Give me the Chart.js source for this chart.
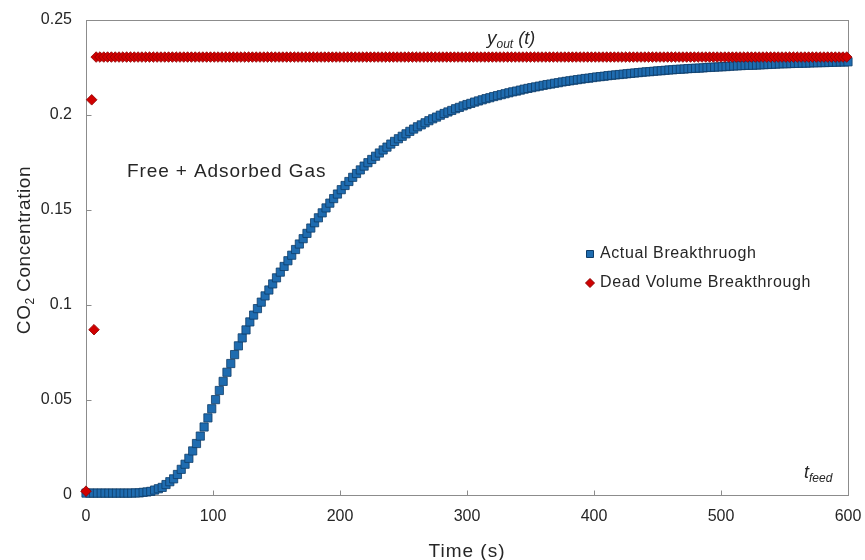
<!DOCTYPE html>
<html>
<head>
<meta charset="utf-8">
<script src="https://cdn.jsdelivr.net/npm/chart.js@4.4.1/dist/chart.umd.min.js"></script>
<style>
  html, body { margin: 0; padding: 0; background: #ffffff; }
  #wrap { width: 865px; height: 560px; }
</style>
</head>
<body>
<div id="wrap"><canvas id="c" width="865" height="560"></canvas></div>
<script>
// Outlet CO2 concentration measured during the feed step (s)
const actualTime = [
  0,3,6,9,12,15,18,21,24,27,30,33,36,39,42,45,48,51,54,57,
  60,63,66,69,72,75,78,81,84,87,90,93,96,99,102,105,108,111,114,117,
  120,123,126,129,132,135,138,141,144,147,150,153,156,159,162,165,168,171,174,177,
  180,183,186,189,192,195,198,201,204,207,210,213,216,219,222,225,228,231,234,237,
  240,243,246,249,252,255,258,261,264,267,270,273,276,279,282,285,288,291,294,297,
  300,303,306,309,312,315,318,321,324,327,330,333,336,339,342,345,348,351,354,357,
  360,363,366,369,372,375,378,381,384,387,390,393,396,399,402,405,408,411,414,417,
  420,423,426,429,432,435,438,441,444,447,450,453,456,459,462,465,468,471,474,477,
  480,483,486,489,492,495,498,501,504,507,510,513,516,519,522,525,528,531,534,537,
  540,543,546,549,552,555,558,561,564,567,570,573,576,579,582,585,588,591,594,597,
  600
];
const actualConc = [
  0.0010,0.0010,0.0010,0.0010,0.0010,0.0010,0.0010,0.0010,0.0010,0.0010,0.0010,0.0010,0.0010,0.0011,0.0011,0.0014,0.0016,0.0019,0.0026,0.0033,
  0.0040,0.0055,0.0070,0.0085,0.0108,0.0135,0.0162,0.0193,0.0232,0.0271,0.0310,0.0358,0.0406,0.0454,0.0502,0.0550,0.0598,0.0646,0.0692,0.0739,
  0.0785,0.0827,0.0869,0.0911,0.0947,0.0981,0.1015,0.1048,0.1079,0.1111,0.1143,0.1173,0.1203,0.1233,0.1262,0.1292,0.1321,0.1349,0.1377,0.1405,
  0.1433,0.1459,0.1485,0.1511,0.1536,0.1560,0.1584,0.1607,0.1629,0.1650,0.1672,0.1692,0.1711,0.1731,0.1749,0.1766,0.1783,0.1800,0.1816,0.1831,
  0.1847,0.1861,0.1875,0.1888,0.1901,0.1914,0.1926,0.1938,0.1948,0.1959,0.1970,0.1980,0.1989,0.1999,0.2008,0.2016,0.2024,0.2033,0.2040,0.2048,
  0.2055,0.2061,0.2068,0.2074,0.2080,0.2086,0.2091,0.2097,0.2102,0.2107,0.2112,0.2117,0.2122,0.2126,0.2131,0.2136,0.2140,0.2144,0.2148,0.2152,
  0.2156,0.2160,0.2163,0.2167,0.2170,0.2174,0.2177,0.2180,0.2183,0.2186,0.2189,0.2192,0.2194,0.2197,0.2200,0.2202,0.2204,0.2207,0.2209,0.2211,
  0.2213,0.2215,0.2217,0.2219,0.2221,0.2223,0.2225,0.2227,0.2228,0.2230,0.2232,0.2233,0.2235,0.2237,0.2238,0.2240,0.2241,0.2242,0.2244,0.2245,
  0.2246,0.2247,0.2248,0.2250,0.2251,0.2252,0.2253,0.2254,0.2255,0.2257,0.2258,0.2259,0.2260,0.2261,0.2262,0.2262,0.2263,0.2264,0.2265,0.2266,
  0.2267,0.2268,0.2269,0.2270,0.2270,0.2271,0.2272,0.2272,0.2273,0.2273,0.2274,0.2275,0.2275,0.2276,0.2276,0.2277,0.2278,0.2278,0.2279,0.2279,
  0.2280
];

// Blank-column (dead volume) response
const deadTime = [
  0,4.5,6.3,
  8,11,14,17,20,23,26,29,32,35,38,41,44,47,50,53,56,59,62,65,
  68,71,74,77,80,83,86,89,92,95,98,101,104,107,110,113,116,119,122,125,
  128,131,134,137,140,143,146,149,152,155,158,161,164,167,170,173,176,179,182,185,
  188,191,194,197,200,203,206,209,212,215,218,221,224,227,230,233,236,239,242,245,
  248,251,254,257,260,263,266,269,272,275,278,281,284,287,290,293,296,299,302,305,
  308,311,314,317,320,323,326,329,332,335,338,341,344,347,350,353,356,359,362,365,
  368,371,374,377,380,383,386,389,392,395,398,401,404,407,410,413,416,419,422,425,
  428,431,434,437,440,443,446,449,452,455,458,461,464,467,470,473,476,479,482,485,
  488,491,494,497,500,503,506,509,512,515,518,521,524,527,530,533,536,539,542,545,
  548,551,554,557,560,563,566,569,572,575,578,581,584,587,590,593,596,599
];
const deadConc = [
  0.002,0.208,0.087,
  0.2305,0.2305,0.2305,0.2305,0.2305,0.2305,0.2305,0.2305,0.2305,0.2305,0.2305,0.2305,0.2305,0.2305,0.2305,0.2305,0.2305,0.2305,0.2305,0.2305,
  0.2305,0.2305,0.2305,0.2305,0.2305,0.2305,0.2305,0.2305,0.2305,0.2305,0.2305,0.2305,0.2305,0.2305,0.2305,0.2305,0.2305,0.2305,0.2305,0.2305,
  0.2305,0.2305,0.2305,0.2305,0.2305,0.2305,0.2305,0.2305,0.2305,0.2305,0.2305,0.2305,0.2305,0.2305,0.2305,0.2305,0.2305,0.2305,0.2305,0.2305,
  0.2305,0.2305,0.2305,0.2305,0.2305,0.2305,0.2305,0.2305,0.2305,0.2305,0.2305,0.2305,0.2305,0.2305,0.2305,0.2305,0.2305,0.2305,0.2305,0.2305,
  0.2305,0.2305,0.2305,0.2305,0.2305,0.2305,0.2305,0.2305,0.2305,0.2305,0.2305,0.2305,0.2305,0.2305,0.2305,0.2305,0.2305,0.2305,0.2305,0.2305,
  0.2305,0.2305,0.2305,0.2305,0.2305,0.2305,0.2305,0.2305,0.2305,0.2305,0.2305,0.2305,0.2305,0.2305,0.2305,0.2305,0.2305,0.2305,0.2305,0.2305,
  0.2305,0.2305,0.2305,0.2305,0.2305,0.2305,0.2305,0.2305,0.2305,0.2305,0.2305,0.2305,0.2305,0.2305,0.2305,0.2305,0.2305,0.2305,0.2305,0.2305,
  0.2305,0.2305,0.2305,0.2305,0.2305,0.2305,0.2305,0.2305,0.2305,0.2305,0.2305,0.2305,0.2305,0.2305,0.2305,0.2305,0.2305,0.2305,0.2305,0.2305,
  0.2305,0.2305,0.2305,0.2305,0.2305,0.2305,0.2305,0.2305,0.2305,0.2305,0.2305,0.2305,0.2305,0.2305,0.2305,0.2305,0.2305,0.2305,0.2305,0.2305,
  0.2305,0.2305,0.2305,0.2305,0.2305,0.2305,0.2305,0.2305,0.2305,0.2305,0.2305,0.2305,0.2305,0.2305,0.2305,0.2305,0.2305,0.2305
];

const seriesNames = ['Actual Breakthruogh', 'Dead Volume Breakthrough'];
const xTickValues = [0, 100, 200, 300, 400, 500, 600];
const xTickLabels = ['0', '100', '200', '300', '400', '500', '600'];
const yTickValues = [0, 0.05, 0.1, 0.15, 0.2, 0.25];
const yTickLabels = ['0', '0.05', '0.1', '0.15', '0.2', '0.25'];

const FONT = "'Liberation Sans', Arial, sans-serif";
const TEXT = '#262626';
const BLUE = { fill: '#1f6cb0', edge: '#0e3c68' };
const RED = { fill: '#d00000', edge: '#8e0000' };

const toPoints = (xs, ys) => xs.map((t, i) => ({ x: t, y: ys[i] }));

// Draws a sequence of text runs (for sub/superscripts) starting at x, baseline y
function drawRuns(ctx, x, y, runs) {
  let cx = x;
  runs.forEach(r => {
    ctx.font = r.font;
    ctx.letterSpacing = r.ls || '0px';
    ctx.fillText(r.text, cx, y + (r.dy || 0));
    cx += ctx.measureText(r.text).width;
  });
  ctx.letterSpacing = '0px';
  return cx;
}
function runsWidth(ctx, runs) {
  let w = 0;
  runs.forEach(r => {
    ctx.font = r.font;
    ctx.letterSpacing = r.ls || '0px';
    w += ctx.measureText(r.text).width;
  });
  ctx.letterSpacing = '0px';
  return w;
}

function drawSquare(ctx, x, y, half, c) {
  ctx.fillStyle = c.fill; ctx.strokeStyle = c.edge; ctx.lineWidth = 1;
  ctx.beginPath(); ctx.rect(x - half, y - half, half * 2, half * 2); ctx.fill(); ctx.stroke();
}
function drawDiamond(ctx, x, y, r, c) {
  ctx.fillStyle = c.fill; ctx.strokeStyle = c.edge; ctx.lineWidth = 1;
  ctx.beginPath();
  ctx.moveTo(x - r, y); ctx.lineTo(x, y - r); ctx.lineTo(x + r, y); ctx.lineTo(x, y + r);
  ctx.closePath(); ctx.fill(); ctx.stroke();
}

const decorations = {
  id: 'decorations',
  beforeDatasetsDraw(chart) {
    const { ctx, chartArea: a, scales: { x, y } } = chart;
    ctx.save();
    ctx.strokeStyle = '#8c8c8c';
    ctx.lineWidth = 1;
    const L = Math.round(a.left) + 0.5, T = Math.round(a.top) + 0.5;
    const R = Math.round(a.right) + 0.5, B = Math.round(a.bottom) + 0.5;
    ctx.strokeRect(L, T, R - L, B - T);
    ctx.beginPath();
    xTickValues.forEach(v => {
      const px = Math.round(x.getPixelForValue(v)) + 0.5;
      ctx.moveTo(px, B); ctx.lineTo(px, B - 5);
    });
    yTickValues.forEach(v => {
      const py = Math.round(y.getPixelForValue(v)) + 0.5;
      ctx.moveTo(L, py); ctx.lineTo(L + 5, py);
    });
    ctx.stroke();
    ctx.restore();
  },
  afterDatasetsDraw(chart) {
    const { ctx, chartArea: a } = chart;
    ctx.save();
    ctx.fillStyle = TEXT;
    ctx.textBaseline = 'alphabetic';
    ctx.textAlign = 'left';

    // region label
    drawRuns(ctx, 127, 177, [{ text: 'Free + Adsorbed Gas', font: `19px ${FONT}`, ls: '0.9px' }]);

    // outlet composition label
    drawRuns(ctx, 487, 44, [
      { text: 'y', font: `italic 19px ${FONT}` },
      { text: 'out', font: `italic 12px ${FONT}`, dy: 4 },
      { text: ' (t)', font: `italic 18px ${FONT}` }
    ]);

    // feed time label
    drawRuns(ctx, 804, 478, [
      { text: 't', font: `italic 18px ${FONT}` },
      { text: 'feed', font: `italic 12px ${FONT}`, dy: 4 }
    ]);

    // legend
    drawSquare(ctx, 590, 254, 3.5, BLUE);
    drawDiamond(ctx, 590, 283, 4.5, RED);
    ctx.fillStyle = TEXT;
    ctx.textBaseline = 'middle';
    drawRuns(ctx, 600, 254, [{ text: seriesNames[0], font: `16px ${FONT}`, ls: '0.6px' }]);
    drawRuns(ctx, 600, 283, [{ text: seriesNames[1], font: `16px ${FONT}`, ls: '0.6px' }]);

    // x axis title
    ctx.textBaseline = 'alphabetic';
    const xRuns = [{ text: 'Time (s)', font: `19px ${FONT}`, ls: '1px' }];
    const xw = runsWidth(ctx, xRuns);
    drawRuns(ctx, (a.left + a.right) / 2 - xw / 2, 557, xRuns);

    // y axis title with subscript
    const yRuns = [
      { text: 'CO', font: `19px ${FONT}`, ls: '0.6px' },
      { text: '2', font: `12px ${FONT}`, dy: 4 },
      { text: ' Concentration', font: `19px ${FONT}`, ls: '0.6px' }
    ];
    const w = runsWidth(ctx, yRuns);
    ctx.translate(30, 250);
    ctx.rotate(-Math.PI / 2);
    drawRuns(ctx, -w / 2, 0, yRuns);
    ctx.restore();
  }
};

new Chart(document.getElementById('c'), {
  type: 'scatter',
  data: {
    datasets: [
      {
        label: seriesNames[0],
        data: toPoints(actualTime, actualConc),
        pointStyle: 'rect',
        pointRadius: 5.8,
        backgroundColor: BLUE.fill,
        borderColor: BLUE.edge,
        borderWidth: 0.8,
        order: 2,
        clip: false
      },
      {
        label: seriesNames[1],
        data: toPoints(deadTime, deadConc),
        pointStyle: 'rectRot',
        pointRadius: 5.3,
        backgroundColor: RED.fill,
        borderColor: RED.edge,
        borderWidth: 0.8,
        order: 1,
        clip: false
      }
    ]
  },
  options: {
    responsive: false,
    animation: false,
    devicePixelRatio: 1,
    layout: { padding: { top: 20, right: 17, left: 0, bottom: 0 } },
    plugins: { legend: { display: false }, tooltip: { enabled: false } },
    scales: {
      x: {
        type: 'linear',
        min: 0, max: 600,
        afterBuildTicks: s => { s.ticks = xTickValues.map(v => ({ value: v })); },
        afterFit: s => { s.height = 65; s.paddingLeft = 0; s.paddingRight = 0; },
        grid: { display: false, drawTicks: false },
        border: { display: false },
        ticks: {
          padding: 12,
          color: TEXT,
          font: { family: FONT, size: 16 },
          maxRotation: 0,
          callback: v => xTickLabels[xTickValues.indexOf(v)]
        }
      },
      y: {
        type: 'linear',
        min: 0, max: 0.25,
        afterBuildTicks: s => { s.ticks = yTickValues.map(v => ({ value: v })); },
        afterFit: s => { s.width = 86; s.paddingTop = 0; s.paddingBottom = 0; },
        grid: { display: false, drawTicks: false },
        border: { display: false },
        ticks: {
          padding: 14,
          color: TEXT,
          font: { family: FONT, size: 16 },
          callback: v => yTickLabels[yTickValues.indexOf(v)]
        }
      }
    }
  },
  plugins: [decorations]
});
</script>
</body>
</html>
